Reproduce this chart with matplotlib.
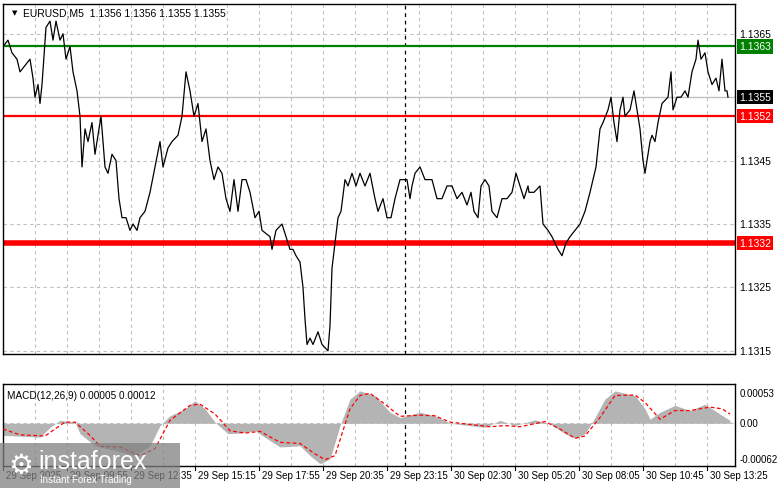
import matplotlib.pyplot as plt
from matplotlib.patches import Rectangle
import numpy as np

# bar position (chart column) and close price
bar_pos = [3, 8, 12, 17, 20, 25, 30, 33, 35, 38, 40, 42, 46, 50, 53, 56, 60, 63, 66, 70,
           73, 77, 80, 82, 85, 88, 92, 95, 98, 101, 105, 108, 112, 116, 119, 122, 126, 130, 133, 137,
           140, 145, 150, 155, 160, 163, 168, 172, 178, 182, 186, 190, 194, 198, 202, 206, 210, 214, 218, 222,
           226, 230, 234, 238, 242, 246, 250, 255, 259, 262, 270, 272, 276, 282, 286, 290, 293, 296, 300, 303,
           305, 307, 310, 313, 318, 322, 328, 330, 332, 335, 338, 341, 345, 348, 352, 356, 360, 365, 370, 375,
           378, 383, 387, 391, 395, 400, 404, 407, 410, 412, 415, 420, 425, 432, 437, 442, 447, 452, 457, 462,
           467, 471, 474, 478, 481, 485, 489, 492, 497, 502, 507, 512, 516, 520, 524, 528, 529, 534, 540, 543,
           548, 552, 558, 562, 566, 570, 575, 580, 585, 590, 596, 600, 603, 608, 611, 614, 617, 620, 623, 625,
           630, 634, 637, 640, 643, 645, 650, 652, 655, 658, 662, 668, 671, 673, 677, 681, 685, 688, 692, 696,
           698, 701, 705, 708, 712, 716, 719, 722, 725, 727, 728]
close = [1.1363, 1.1364, 1.1362, 1.1361, 1.1359, 1.1360, 1.1361, 1.1358, 1.1355, 1.1357, 1.1354, 1.1357, 1.1366, 1.1367, 1.1364, 1.1367, 1.1364, 1.1365, 1.1361, 1.1363,
         1.1359, 1.1356, 1.1352, 1.1344, 1.1350, 1.1348, 1.1351, 1.1346, 1.1349, 1.1352, 1.1344, 1.1343, 1.1346, 1.1345, 1.1339, 1.1336, 1.1336, 1.1334, 1.1335, 1.1334,
         1.1336, 1.1337, 1.1340, 1.1344, 1.1348, 1.1344, 1.1347, 1.1348, 1.1349, 1.1352, 1.1359, 1.1356, 1.1352, 1.1354, 1.1348, 1.1350, 1.1345, 1.1342, 1.1344, 1.1343,
         1.1339, 1.1337, 1.1342, 1.1337, 1.1342, 1.1342, 1.1340, 1.1336, 1.1337, 1.1334, 1.1333, 1.1331, 1.1334, 1.1335, 1.1333, 1.1331, 1.1331, 1.1330, 1.1329, 1.1325,
         1.1320, 1.1316, 1.1317, 1.1316, 1.1318, 1.1316, 1.1315, 1.1319, 1.1328, 1.1332, 1.1336, 1.1337, 1.1342, 1.1341, 1.1343, 1.1341, 1.1343, 1.1341, 1.1343, 1.1339,
         1.1337, 1.1339, 1.1336, 1.1336, 1.1339, 1.1342, 1.1342, 1.1342, 1.1339, 1.1341, 1.1343, 1.1344, 1.1342, 1.1342, 1.1339, 1.1339, 1.1341, 1.1341, 1.1339, 1.1340,
         1.1338, 1.1340, 1.1337, 1.1336, 1.1341, 1.1342, 1.1341, 1.1337, 1.1336, 1.1339, 1.1339, 1.1340, 1.1343, 1.1341, 1.1339, 1.1341, 1.1340, 1.1340, 1.1341, 1.1335,
         1.1334, 1.1333, 1.1331, 1.1330, 1.1332, 1.1333, 1.1334, 1.1335, 1.1337, 1.1340, 1.1344, 1.1350, 1.1351, 1.1353, 1.1355, 1.1351, 1.1348, 1.1353, 1.1355, 1.1352,
         1.1353, 1.1356, 1.1353, 1.1350, 1.1345, 1.1343, 1.1348, 1.1349, 1.1348, 1.1351, 1.1354, 1.1355, 1.1359, 1.1353, 1.1355, 1.1355, 1.1356, 1.1355, 1.1359, 1.1361,
         1.1364, 1.1361, 1.1362, 1.1359, 1.1357, 1.1358, 1.1356, 1.1361, 1.1356, 1.1356, 1.1355]

# MACD histogram and signal (units of 1e-5)
hist_pos = [3, 40, 50, 60, 75, 80, 95, 115, 135, 150, 160, 170, 185, 195, 205, 215, 228, 240, 255, 270,
            280, 300, 310, 320, 330, 340, 350, 360, 375, 390, 400, 420, 435, 450, 470, 485, 500, 515, 535, 550,
            565, 575, 585, 595, 605, 615, 635, 645, 650, 660, 675, 690, 705, 720, 730]
hist = [-21, -24, -7, 5, 2, -18, -39, -47, -56, -39, -4, 13, 25, 39, 25, 2, -18, -17, -13, -30,
        -41, -39, -56, -70, -62, -4, 42, 56, 48, 19, 10, 19, 13, 0, -4, -7, 5, -4, 6, -1,
        -18, -26, -18, 10, 42, 56, 48, 25, 7, 19, 31, 22, 33, 16, 5]
sig_pos = [3, 20, 45, 65, 75, 90, 100, 120, 140, 155, 170, 190, 200, 215, 230, 245, 260, 280, 300, 315,
           325, 335, 350, 360, 370, 385, 400, 420, 435, 450, 470, 490, 505, 520, 545, 560, 575, 585, 600, 615,
           635, 645, 660, 675, 690, 710, 722, 730]
signal = [-10, -20, -22, 2, 2, -21, -40, -41, -56, -44, 5, 31, 33, 16, -13, -17, -14, -33, -35, -53,
          -63, -56, 25, 48, 52, 33, 12, 14, 13, 2, -2, -6, -4, -6, 3, -10, -26, -22, 10, 48,
          49, 36, 7, 22, 22, 28, 25, 16]

price_ticks = [1.1365, 1.1345, 1.1335, 1.1325, 1.1315]
levels = {'green': 1.1363, 'red_a': 1.1352, 'red_b': 1.1332}
bid = 1.1355
time_labels = ['29 Sep 2025', '29 Sep 09:55', '29 Sep 12:35', '29 Sep 15:15', '29 Sep 17:55', '29 Sep 20:35',
               '29 Sep 23:15', '30 Sep 02:30', '30 Sep 05:20', '30 Sep 08:05', '30 Sep 10:45', '30 Sep 13:25']
label_pos = [3, 67, 131, 195, 259, 323, 387, 451, 515, 579, 643, 707]

W, H = 781, 489
plt.rcParams['font.family'] = ['Liberation Sans', 'DejaVu Sans']
fig = plt.figure(figsize=(W / 100, H / 100), dpi=100)

def frac(l, t, r, b):
    return [l / W, 1 - b / H, (r - l) / W, (b - t) / H]

ax = fig.add_axes(frac(3, 5, 735, 355))
ax2 = fig.add_axes(frac(3, 385, 735, 467))
x0, x1 = 3, 735
for a in (ax, ax2):
    a.set_xlim(x0, x1)
    a.set_xticks([])
    a.set_yticks([])
    for s in a.spines.values():
        s.set_color('black')
        s.set_linewidth(1)
    for gx in range(35, 735, 32):
        a.axvline(gx, color='#c0c0c0', ls=(0, (3, 3)), lw=0.8, zorder=0)
    a.axvline(405, color='black', ls=(0, (3, 3)), lw=0.9, zorder=1)

ymin, ymax = 1.13145, 1.13697
ax.set_ylim(ymin, ymax)
for p in price_ticks:
    ax.axhline(p, color='#c0c0c0', ls=(0, (3, 3)), lw=0.8, zorder=0)
ax.axhline(bid, color='#c0c0c0', lw=1, zorder=0)
ax.plot(bar_pos, close, color='black', lw=0.9, zorder=3)
ax.axhline(levels['green'], color='green', lw=1.6, zorder=2)
ax.axhline(levels['red_a'], color='red', lw=1.6, zorder=2)
ax.axhline(levels['red_b'], color='red', lw=4, zorder=2)
ax.text(0.012, 0.985, '\u25bc', transform=ax.transAxes, fontsize=5, va='top', family='DejaVu Sans')
ax.text(0.028, 0.99, 'EURUSD,M5  1.1356 1.1356 1.1355 1.1355', transform=ax.transAxes,
        fontsize=7.5, va='top')

tr = ax.get_yaxis_transform()
for p in price_ticks:
    ax.text(1.006, p, f'{p:.4f}', transform=tr, fontsize=7.5, va='center', clip_on=False)
for val, fc in [(levels['green'], 'green'), (bid, 'black'), (levels['red_a'], 'red'), (levels['red_b'], 'red')]:
    ax.text(1.006, val, f'{val:.4f}', transform=tr, fontsize=7.5, va='center', color='white', clip_on=False,
            bbox=dict(boxstyle='square,pad=0.2', fc=fc, ec='none'))

# MACD panel
ax2.set_ylim(-74, 68)
ax2.fill_between(hist_pos, 0, hist, color='#b4b4b4', lw=0, zorder=2)
ax2.axhline(0, color='#c0c0c0', ls=(0, (3, 3)), lw=0.8, zorder=1)
ax2.plot(sig_pos, signal, color='red', ls=(0, (3, 2)), lw=0.9, zorder=3)
ax2.text(0.006, 0.93, 'MACD(12,26,9) 0.00005 0.00012', transform=ax2.transAxes, fontsize=7.2, va='top')
tr2 = ax2.get_yaxis_transform()
for v, lab in [(53, '0.00053'), (0, '0.00'), (-62, '-0.00062')]:
    ax2.text(1.006, v, lab, transform=tr2, fontsize=7, va='center', clip_on=False)

for pos, lab in zip(label_pos, time_labels):
    fig.text(pos / W + 0.004, 1 - 476 / H, lab, fontsize=7.0, va='center', ha='left')
    fig.add_artist(plt.Line2D([pos / W] * 2, [1 - 467 / H, 1 - 471 / H], color='black', lw=0.8))

# watermark
fig.patches.append(Rectangle((0, 0), 180 / W, 45 / H, transform=fig.transFigure,
                             facecolor='#808080', alpha=0.75, zorder=5))
fig.text(38 / W, 1 - 462 / H, 'instaforex', fontsize=18, color='white', va='center', zorder=6)
fig.text(40 / W, 1 - 480 / H, 'Instant Forex Trading', fontsize=7, color='white', va='center', zorder=6)
fig.text(8 / W, 1 - 466 / H, '\u2699', fontsize=20, color='white', va='center', zorder=6,
         family='DejaVu Sans')

fig.savefig('out.png', dpi=100)
